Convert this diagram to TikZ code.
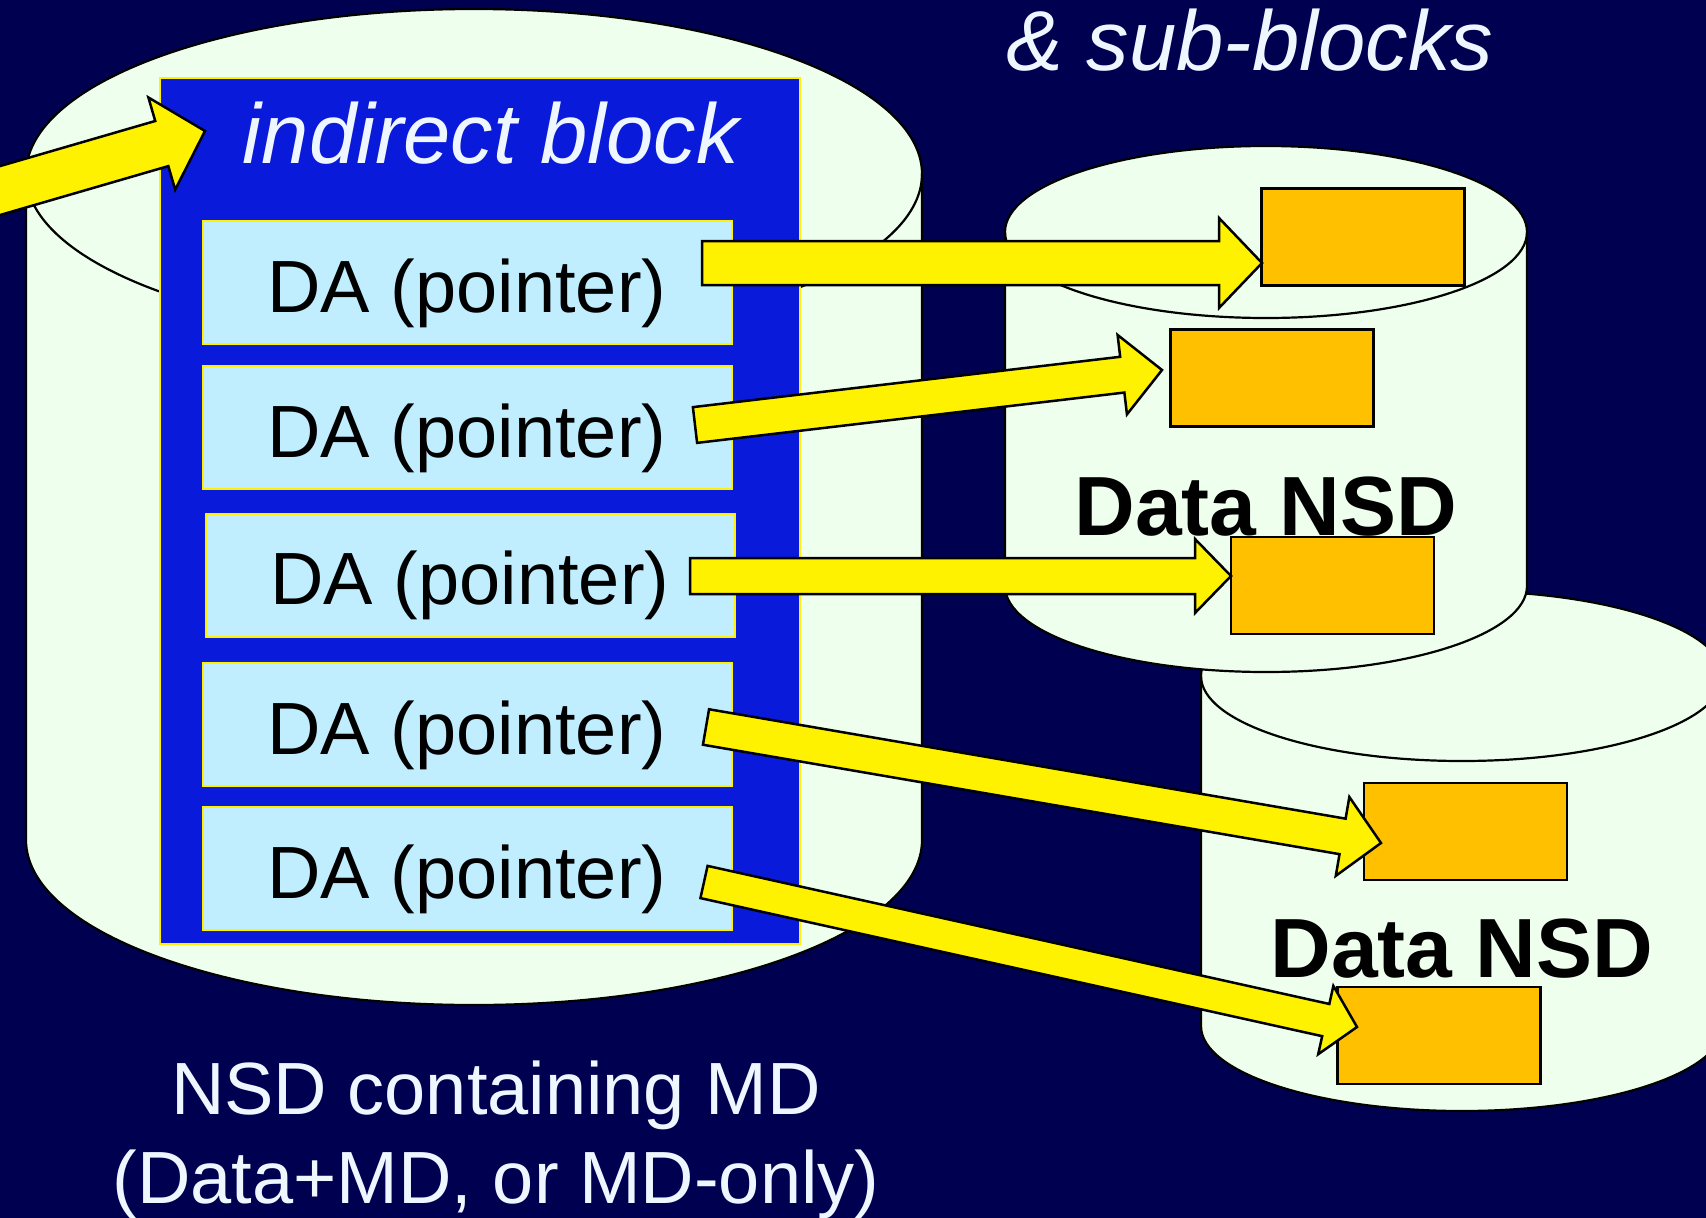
\documentclass[tikz,border=0pt]{standalone}
\usepackage{fontspec}
\setmainfont{Liberation Sans}
\usepackage{tikz}
\usetikzlibrary{calc}
\definecolor{slidebg}{RGB}{0,0,80}
\definecolor{diskfill}{RGB}{238,255,238}
\definecolor{blockblue}{RGB}{10,26,218}
\definecolor{dafill}{RGB}{192,238,255}
\definecolor{subfill}{RGB}{255,192,0}
\definecolor{slidetext}{RGB}{238,246,255}
\tikzset{
   disk/.style={draw=black, fill=diskfill, line width=2.2pt},
   indirect/.style={draw=yellow, fill=blockblue, line width=1.5pt,
      minimum width=640pt, minimum height=866pt, inner sep=0pt},
   dabox/.style={draw=yellow, fill=dafill, line width=2pt,
      minimum width=529pt, minimum height=123pt, inner sep=0pt,
      text height=59pt, text depth=0pt, font=\fontsize{74}{89}\selectfont},
   subblock/.style={draw=black, fill=subfill, line width=2.2pt,
      minimum width=203pt, minimum height=97pt, inner sep=0pt},
   blockarrow/.style={draw=black, fill=yellow, line width=2.5pt, line join=miter},
   slidelabel/.style={text=slidetext, inner sep=0pt, anchor=base,
      font=\fontsize{74}{89}\selectfont},
   slidetitle/.style={text=slidetext, inner sep=0pt, anchor=base,
      font=\fontsize{85}{100}\selectfont\itshape},
   nsdname/.style={text=black, inner sep=0pt, anchor=base,
      font=\fontsize{84}{100}\selectfont\bfseries},
    }
% cylinder: centre x, top y, bottom y, x radius, y radius
\newcommand{\nsddisk}[5]{%
   \filldraw[disk] (#1-#4,#2) -- (#1-#4,#3)
      arc[start angle=180, end angle=360, x radius=#4, y radius=#5]
      -- (#1+#4,#2)
      arc[start angle=0, end angle=180, x radius=#4, y radius=#5] -- cycle;
   \draw[disk, fill=none] (#1-#4,#2)
      arc[start angle=180, end angle=360, x radius=#4, y radius=#5];
}
% block arrow: tail, tip, shaft half width, head half width, head length
\newcommand{\blockarrow}[5]{%
   \coordinate (hb) at ($(#2)!#5!(#1)$);
   \draw[blockarrow] ($(#1)!#3!90:(#2)$) -- ($(hb)!#3!-90:(#1)$)
      -- ($(hb)!#4!-90:(#1)$) -- (#2) -- ($(hb)!#4!90:(#1)$)
      -- ($(hb)!#3!90:(#1)$) -- ($(#1)!#3!-90:(#2)$) -- cycle;
}

\begin{document}
\begin{tikzpicture}[x=1pt,y=1pt]
            \fill[slidebg] (0,0) rectangle (1706,-1218);
            \useasboundingbox (0,0) rectangle (1706,-1218);
            % disks
            \nsddisk{474}{-174}{-840}{448}{165}
            \nsddisk{1462}{-676}{-1026}{261}{85}
            \nsddisk{1266}{-232}{-586}{261}{86}
            % indirect block with its pointers
            \node[indirect] (indblk) at (480,-511) {};
            \node[slidetitle] (indlbl) at (491,-163) {indirect block};
            \foreach \i/\x/\y in {1/467/282.5,2/467/427.5,3/470/575,4/467/724.5,5/467/868.5}
               \node[dabox] (da\i) at (\x,-\y) {DA (pointer)};
            % sub-blocks on the data NSDs
            \node[nsdname] (nsdlbl1) at (1266,-535) {Data NSD};
            \node[nsdname] (nsdlbl2) at (1462,-977) {Data NSD};
            \node[subblock] (blka) at (1363,-237) {};
            \node[subblock] (blkb) at (1272,-378) {};
            \node[subblock] (blkc) at (1332.5,-585.5) {};
            \node[subblock] (blkd) at (1465.5,-831.5) {};
            \node[subblock] (blke) at (1439,-1035.5) {};
            % labels
            \node[slidetitle] (sublbl) at (1250,-70) {\& sub-blocks};
            \node[slidelabel] (mdlbl1) at (496,-1114) {NSD containing MD};
            \node[slidelabel] (mdlbl2) at (496,-1203) {(Data+MD, or MD-only)};
            % arrows
            \coordinate (t0) at (-60,-208);
            \coordinate (h0) at (205,-131);
            \coordinate (t1) at (702,-263);
            \coordinate (h1) at (1262,-263);
            \coordinate (t2) at (695,-425);
            \coordinate (h2) at (1162,-370);
            \coordinate (t3) at (690,-576);
            \coordinate (h3) at (1231,-576);
            \coordinate (t4) at (706,-727);
            \coordinate (h4) at (1381,-843);
            \coordinate (t5) at (704,-882);
            \coordinate (h5) at (1357,-1027);
            \blockarrow{t0}{h0}{23.5pt}{48pt}{45pt}
            \blockarrow{t1}{h1}{22pt}{45pt}{43pt}
            \blockarrow{t2}{h2}{18pt}{40pt}{40pt}
            \blockarrow{t3}{h3}{18pt}{37pt}{36pt}
            \blockarrow{t4}{h4}{18pt}{40pt}{39pt}
            \blockarrow{t5}{h5}{16.5pt}{35pt}{32pt}
        \end{tikzpicture}
\end{document}
